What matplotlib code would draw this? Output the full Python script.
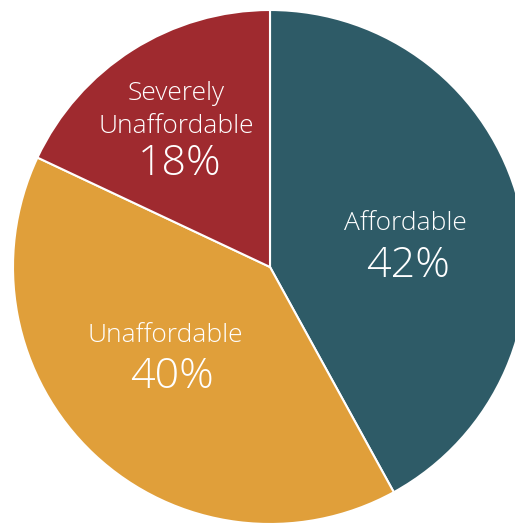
import matplotlib
matplotlib.use("Agg")
import matplotlib.pyplot as plt

labels = ["Affordable", "Unaffordable", "Severely\nUnaffordable"]
shares = [42, 40, 18]
colors = ["#2e5b67", "#e09f3a", "#9f2a2f"]

W, H = 515, 523
fig = plt.figure(figsize=(W / 100, H / 100), dpi=100)
ax = fig.add_axes([0, 0, 1, 1])

cx, cy, r = 270, H - 267, 257
ax.pie(shares, colors=colors, startangle=90, counterclock=False,
       center=(cx, cy), radius=r, frame=True,
       wedgeprops=dict(edgecolor="white", linewidth=1.5))
ax.set_xlim(0, W)
ax.set_ylim(0, H)
ax.set_aspect("equal")
ax.axis("off")

# label positions (pixels from top-left)
name_pos = [(405, 223), (165, 335), (176, 110)]
pct_pos = [(408, 266), (172, 377), (180, 164)]
font = ["Open Sans", "DejaVu Sans"]
for lab, s, (nx, ny), (px, py) in zip(labels, shares, name_pos, pct_pos):
    ax.text(nx, H - ny, lab, ha="center", va="center", color="white",
            fontsize=19, family=font, fontweight="light", linespacing=1.4)
    ax.text(px, H - py, f"{s}%", ha="center", va="center", color="white",
            fontsize=31, family=font, fontweight="light")

fig.savefig("out.png", dpi=100)
